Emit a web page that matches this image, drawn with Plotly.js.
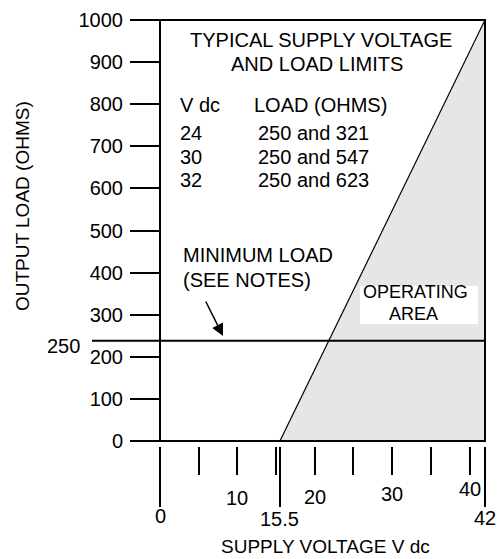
<!DOCTYPE html>
<html>
<head>
<meta charset="utf-8">
<script src="https://cdn.plot.ly/plotly-3.0.1.min.js"></script>
<style>html,body{margin:0;padding:0;background:#fff;}#chart{width:497px;height:559px;}</style>
</head>
<body>
<div id="chart"></div>
<script>
// ---- data ----
const yTicks = [0, 100, 200, 300, 400, 500, 600, 700, 800, 900, 1000];
const xMajorTicks = [0, 15.5, 42];
const xMinorTicks = [5, 10, 15, 20, 25, 30, 35, 40];
const xLabelVals = [0, 10, 15.5, 20, 30, 40, 42];
const xLabelText = ["0", "10", "15.5", "20", "30", "40", "42"];
const boundaryX = [15.5, 42];          // supply voltage at load limits
const boundaryY = [0, 1000];           // load (ohms)
const minLoadLine = 238;               // drawn minimum-load line (labelled 250)
const minLoadLabel = "250";
const tableVdc = ["24", "30", "32"];
const tableLoad = ["250 and 321", "250 and 547", "250 and 623"];

// ---- layout helpers ----
const L = 160, R = 485, T = 20, B = 446;
const P = (px, py) => ({x: (px - L) / (R - L), y: (B - py) / (B - T)});
const FONT = "Liberation Sans, Arial, Helvetica, sans-serif";
const ann = [];
function txt(text, px, py, anchor, size) {
  const p = P(px, py);
  ann.push({xref: 'paper', yref: 'paper', x: p.x, y: p.y, text: text, showarrow: false,
    xanchor: anchor, yanchor: 'middle', font: {family: FONT, size: size || 20, color: '#000'}});
}
txt("TYPICAL SUPPLY VOLTAGE", 321, 40, 'center');
txt("AND LOAD LIMITS", 317, 64, 'center');
txt("V dc", 178, 105, 'left');
txt("LOAD (OHMS)", 252, 105, 'left');
const rowY = [133, 157, 180];
tableVdc.forEach((v, i) => { txt(v, 178, rowY[i], 'left'); txt(tableLoad[i], 256, rowY[i], 'left'); });
txt("MINIMUM LOAD", 181, 255, 'left');
txt("(SEE NOTES)", 181, 280, 'left');

// arrow
(function () {
  const h = P(223, 336);
  ann.push({xref: 'paper', yref: 'paper', x: h.x, y: h.y, text: '', showarrow: true,
    ax: -18, ay: -36, arrowhead: 2, arrowsize: 1.6, arrowwidth: 1.5, arrowcolor: '#000', standoff: 0});
})();

// operating area label (on white box drawn as shape)
txt("OPERATING", 415, 292, 'center', 18);
txt("AREA", 413, 314, 'center', 18);

// 250 label
txt(minLoadLabel, 82, 346, 'right', 20);

// x tick labels (staggered)
const xLabelPy = [516, 498, 519, 497, 494, 489, 518];
xLabelVals.forEach((v, i) => {
  ann.push({xref: 'x', yref: 'paper', x: v, y: P(0, xLabelPy[i]).y, text: xLabelText[i], showarrow: false,
    xanchor: 'center', yanchor: 'middle', font: {family: FONT, size: 20, color: '#000'}});
});

// axis titles
txt('SUPPLY VOLTAGE V dc', 325, 546, 'center', 19);
(function () {
  const q = P(22, 206);
  ann.push({xref: 'paper', yref: 'paper', x: q.x, y: q.y, text: 'OUTPUT LOAD (OHMS)', showarrow: false,
    textangle: -90, xanchor: 'center', yanchor: 'middle', font: {family: FONT, size: 19, color: '#000'}});
})();

const traces = [
  {x: [boundaryX[0], boundaryX[1], boundaryX[1], boundaryX[0]],
   y: [boundaryY[0], boundaryY[1], boundaryY[0], boundaryY[0]],
   type: 'scatter', mode: 'lines', fill: 'toself', fillcolor: '#e6e6e6',
   line: {width: 0, color: 'rgba(0,0,0,0)'}, hoverinfo: 'skip', showlegend: false},
  {x: boundaryX, y: boundaryY, type: 'scatter', mode: 'lines',
   line: {width: 1.2, color: '#000'}, hoverinfo: 'skip', showlegend: false}
];

const boxA = P(360, 286), boxB = P(478, 324);
const layout = {
  width: 497, height: 559,
  margin: {l: L, r: 497 - R, t: T, b: 559 - B, pad: 0},
  paper_bgcolor: '#fff', plot_bgcolor: 'rgba(0,0,0,0)',
  showlegend: false,
  font: {family: FONT, size: 20, color: '#000'},
  xaxis: {range: [0, 42], domain: [0, 1], anchor: 'free', position: 0,
    showgrid: false, zeroline: false, showline: false,
    tickmode: 'array', tickvals: xMajorTicks, ticks: 'outside', ticklen: 60, tickwidth: 2, tickcolor: '#000',
    showticklabels: false,
    minor: {tickmode: 'array', tickvals: xMinorTicks, ticks: 'outside', ticklen: 28, tickwidth: 2, tickcolor: '#000', showgrid: false}},
  yaxis: {range: [0, 1000], domain: [5 / 426, 1], anchor: 'x',
    showgrid: false, zeroline: false, showline: false,
    tickmode: 'array', tickvals: yTicks, ticks: 'outside', ticklen: 29, tickwidth: 2, tickcolor: '#000',
    tickfont: {family: FONT, size: 20, color: '#000'}, ticklabelstandoff: 3},
  shapes: [
    {type: 'rect', xref: 'paper', yref: 'paper', x0: boxA.x, x1: boxB.x, y0: boxB.y, y1: boxA.y,
     line: {width: 0}, fillcolor: '#ffffff', layer: 'above'},
    {type: 'line', xref: 'paper', yref: 'y', x0: (92 - L) / (R - L), x1: 1, y0: minLoadLine, y1: minLoadLine,
     line: {color: '#000', width: 2}},
    {type: 'rect', xref: 'x domain', yref: 'y domain', x0: 0, x1: 1, y0: 0, y1: 1,
     line: {color: '#000', width: 2}, fillcolor: 'rgba(0,0,0,0)'}
  ],
  annotations: ann
};

Plotly.newPlot('chart', traces, layout, {displayModeBar: false, staticPlot: true});
</script>
</body>
</html>
